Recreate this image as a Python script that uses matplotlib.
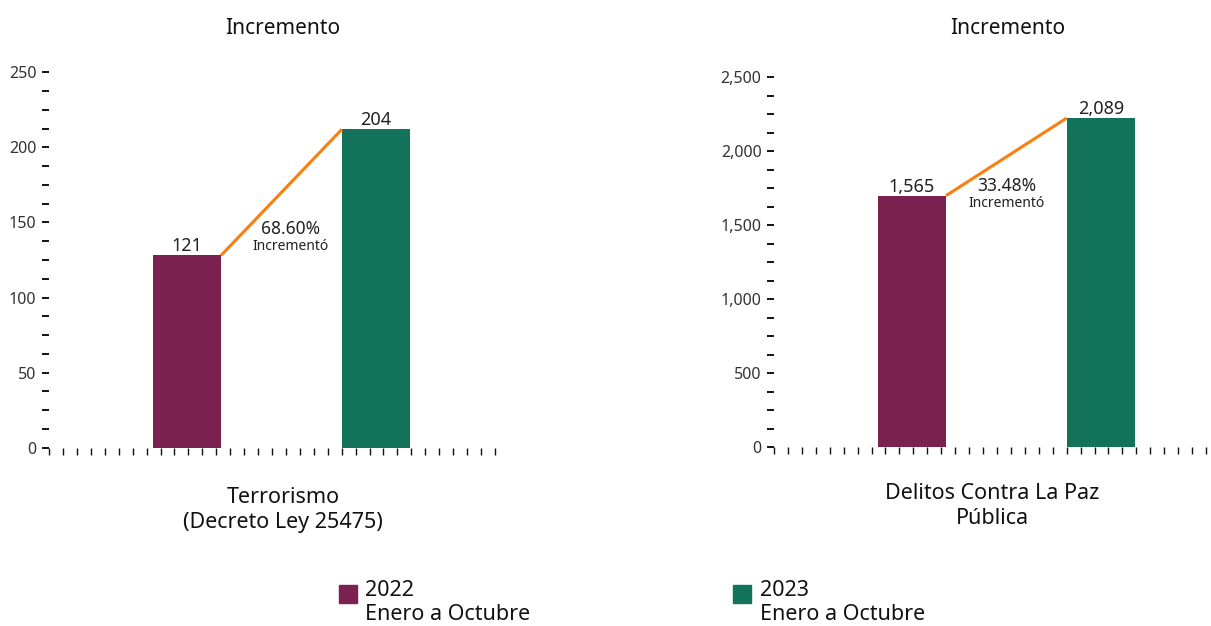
import matplotlib
matplotlib.use("Agg")
import matplotlib.pyplot as plt
from matplotlib.ticker import MultipleLocator, NullFormatter, FuncFormatter

plt.rcParams['font.family'] = ['Noto Sans', 'DejaVu Sans']

# data
years = ['2022', '2023']
period = 'Enero a Octubre'
colors = ['#7A2150', '#12735A']
line_color = '#FA7F0F'

cat_left = 'Terrorismo\n(Decreto Ley 25475)'
bars_left = [128, 212]          # drawn bar heights
labels_left = ['121', '204']    # printed values
pct_left = '68.60%'

cat_right = 'Delitos Contra La Paz\nPública'
bars_right = [1700, 2225]
labels_right = ['1,565', '2,089']
pct_right = '33.48%'

W, H = 1211, 626
fig = plt.figure(figsize=(W / 100, H / 100), dpi=100)


def px(x, y):
    return x / W, 1 - y / H


def panel(rect, heights, labels, pct, ymax, ystep, nx, title_x, cat, cat_x, cat_y, pct_xy):
    ax = fig.add_axes(rect)
    xpos = [9.9, 23.45]
    width = 4.88
    ax.bar(xpos, heights, width=width, color=colors, zorder=2)
    for x, h, lab in zip(xpos, heights, labels):
        ax.annotate(lab, (x, h), xytext=(0, 0), textcoords='offset points',
                    ha='center', va='bottom', fontsize=13, color='#222222')
    # line from top-right of first bar to top-left of second
    ax.plot([xpos[0] + width / 2, xpos[1] - width / 2], heights, color=line_color,
            lw=2.2, zorder=3, solid_capstyle='butt')
    ax.set_xlim(0, nx)
    ax.set_ylim(0, ymax)
    for s in ax.spines.values():
        s.set_visible(False)
    ax.yaxis.set_major_locator(MultipleLocator(ystep))
    ax.yaxis.set_minor_locator(MultipleLocator(ystep / 4))
    ax.yaxis.set_major_formatter(FuncFormatter(lambda v, p: f'{int(v):,}'))
    ax.xaxis.set_major_locator(MultipleLocator(1))
    ax.xaxis.set_major_formatter(NullFormatter())
    ax.tick_params(axis='y', which='both', length=5, width=1.4, color='#111111',
                   labelsize=11.5, labelcolor='#333333', pad=4)
    ax.tick_params(axis='x', which='major', length=5, width=1.0, color='#111111')
    fig.text(*px(title_x, 28), 'Incremento', ha='center', va='center', fontsize=15,
             color='#111111')
    fig.text(*px(cat_x, cat_y), cat, ha='center', va='center', fontsize=15.5,
             color='#111111', linespacing=1.25)
    fig.text(*px(pct_xy[0], pct_xy[1]), pct, ha='center', va='center', fontsize=12.5,
             color='#222222')
    fig.text(*px(pct_xy[0], pct_xy[1] + 17), 'Incrementó', ha='center', va='center',
             fontsize=10, color='#222222')
    return ax


panel([49 / W, 178.3 / H, 446 / W, 375.4 / H], bars_left, labels_left, pct_left,
      250, 50, 32, 283, cat_left, 283, 510, (291, 229))
panel([774 / W, 178.7 / H, 432 / W, 370 / H], bars_right, labels_right, pct_right,
      2500, 500, 31, 1008, cat_right, 992, 506, (1007, 186))

# legend
for (sx, tx), yr, c in zip([(339, 365), (733, 760)], years, colors):
    fig.patches.append(plt.Rectangle(px(sx, 603), 18 / W, 18 / H, color=c,
                                     transform=fig.transFigure, figure=fig))
    fig.text(*px(tx, 590), yr, ha='left', va='center', fontsize=15.5, color='#111111')
    fig.text(*px(tx, 614), period, ha='left', va='center', fontsize=15.5, color='#111111')

fig.savefig('out.png', dpi=100)
